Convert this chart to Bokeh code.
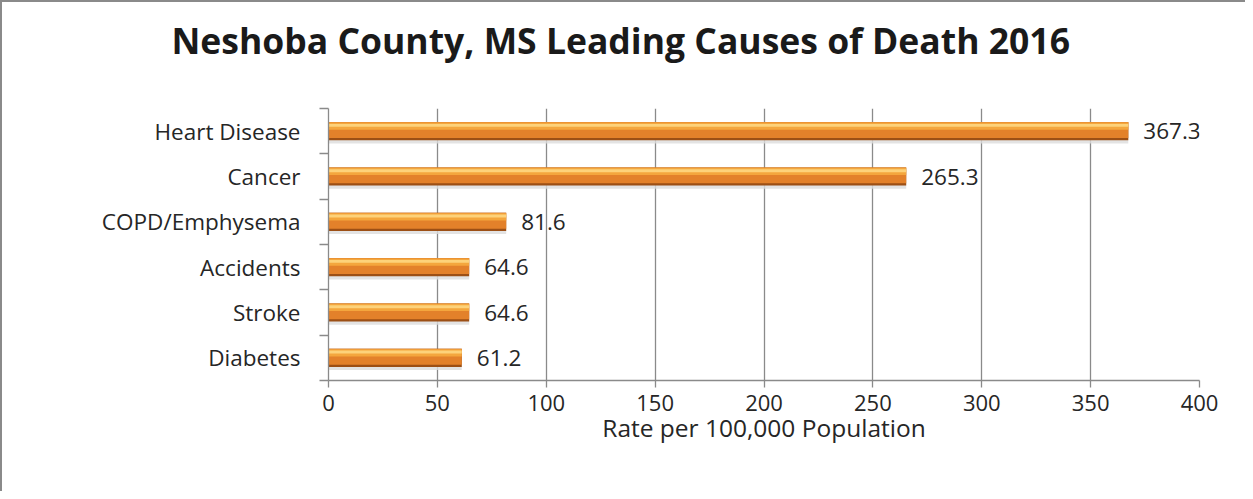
from bokeh.plotting import figure
from bokeh.models import FixedTicker, Range1d, ColumnDataSource, Title
from bokeh.transform import dodge
from bokeh.embed import file_html
from bokeh.resources import INLINE
from bokeh.core.properties import value

categories = ["Diabetes", "Stroke", "Accidents", "COPD/Emphysema", "Cancer", "Heart Disease"]
rates = [61.2, 64.6, 64.6, 81.6, 265.3, 367.3]
x_ticks = [0, 50, 100, 150, 200, 250, 300, 350, 400]
title_text = "Neshoba County, MS Leading Causes of Death 2016"
x_label = "Rate per 100,000 Population"

FONT = "Open Sans"
n = len(categories)
ys = [i + 0.5 for i in range(n)]
labels = [f"{v:.1f}" for v in rates]

src = ColumnDataSource(dict(y=ys, v=rates, lab=labels))

p = figure(width=1245, height=491, output_backend="svg", toolbar_location=None,
           x_range=Range1d(0, 400), y_range=Range1d(0, n),
           min_border_left=326, min_border_right=48, min_border_top=106, min_border_bottom=113)
p.styles = {"border-left": "2px solid #8a8a8a", "border-top": "2px solid #8a8a8a"}

# spacer between frame and title
spacer = Title(text=" ", text_font_size="1px", standoff=42, text_color="white")
p.add_layout(spacer, "above")
t = Title(text=title_text, align="left", vertical_align="bottom", text_font=FONT,
          text_font_size="35.5px", text_font_style="bold", text_color="#1a1a1a",
          offset=-157, standoff=0)
p.add_layout(t, "above")

p.outline_line_color = None
p.background_fill_color = "white"
p.border_fill_color = "white"

# gridlines
p.xgrid.ticker = FixedTicker(ticks=x_ticks)
p.xgrid.grid_line_color = "#8a8a8a"
p.xgrid.grid_line_width = 1.3
p.ygrid.grid_line_color = None

# x axis
xa = p.xaxis[0]
xa.ticker = FixedTicker(ticks=x_ticks)
xa.axis_line_color = "#8a8a8a"
xa.axis_line_width = 1.3
xa.major_tick_line_color = "#8a8a8a"
xa.major_tick_line_width = 1.3
xa.major_tick_in = 0
xa.major_tick_out = 7
xa.minor_tick_line_color = None
xa.major_label_text_font = FONT
xa.major_label_text_font_size = "22px"
xa.major_label_text_color = "#262626"
xa.major_label_standoff = 7
xa.axis_label = x_label
xa.axis_label_text_font = FONT
xa.axis_label_text_font_size = "24.5px"
xa.axis_label_text_font_style = "normal"
xa.axis_label_text_color = "#262626"
xa.axis_label_standoff = -3

# y axis: labels at centers, ticks at boundaries (as minor ticks)
ya = p.yaxis[0]
ya.ticker = FixedTicker(ticks=ys, minor_ticks=list(range(n + 1)))
ya.major_label_overrides = {y: c for y, c in zip(ys, categories)}
ya.axis_line_color = "#8a8a8a"
ya.axis_line_width = 1.3
ya.major_tick_line_color = None
ya.minor_tick_line_color = "#8a8a8a"
ya.minor_tick_line_width = 1.3
ya.minor_tick_in = 0
ya.minor_tick_out = 9
ya.major_label_text_font = FONT
ya.major_label_text_font_size = "22.5px"
ya.major_label_text_color = "#262626"
ya.major_label_standoff = 19

# bars with a 3D look
bh = 0.40
p.hbar(y=dodge("y", -0.07, range=p.y_range), right="v", left=0, height=bh, source=src,
       fill_color="#dcdcdc", fill_alpha=0.8, line_color=None)
p.hbar(y="y", right="v", left=0, height=bh, source=src, fill_color="#9c4f15", line_color=None)
p.hbar(y=dodge("y", 0.025, range=p.y_range), right="v", left=0, height=bh - 0.05, source=src,
       fill_color="#e3812a", line_color=None)
p.hbar(y=dodge("y", bh * 0.28, range=p.y_range), right="v", left=0, height=bh * 0.40, source=src,
       fill_color="#f4a63d", line_color=None)
p.hbar(y=dodge("y", bh * 0.32, range=p.y_range), right="v", left=0, height=bh * 0.16, source=src,
       fill_color="#fdd27a", line_color=None)

# value labels
p.text(x="v", y="y", text="lab", source=src, x_offset=15, text_baseline="middle",
       text_align="left", text_font=value(FONT), text_font_size="22.5px", text_color="#262626")

open("out.html", "w").write(file_html(p, INLINE))
